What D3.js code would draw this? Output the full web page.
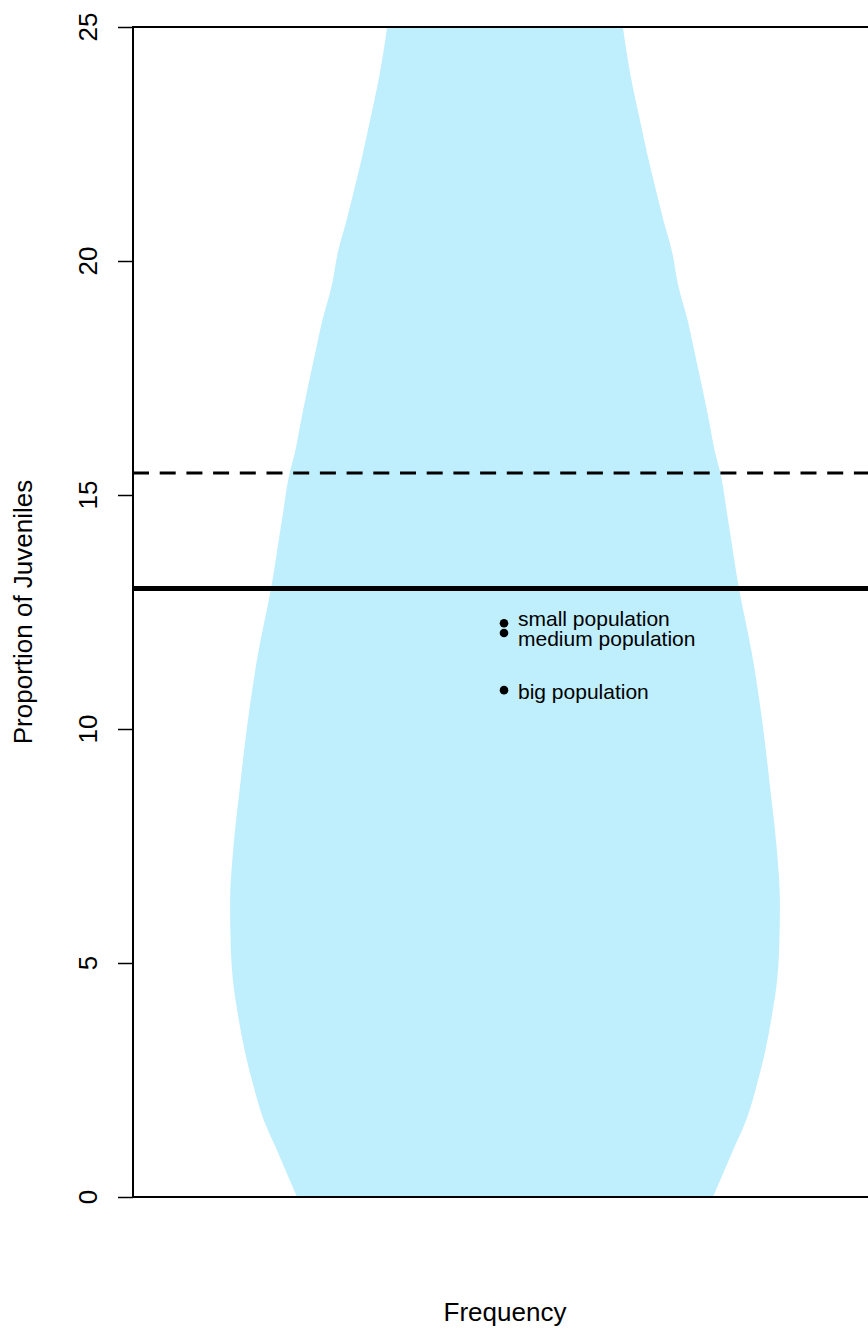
<!DOCTYPE html>
<html>
<head>
<meta charset="utf-8">
<script src="https://cdn.jsdelivr.net/npm/d3@7"></script>
<style>
  body { margin: 0; background: #fff; }
  text { font-family: "Liberation Sans", Arial, sans-serif; }
</style>
</head>
<body>
<svg id="canvas"></svg>
<script>
// proportion levels (y) and the density half-width at each level (in frequency units)
const levels = [0, 1, 1.7, 2.4, 3.1, 3.9, 4.6, 5.3, 6.3, 7.4, 8.8, 10.2, 11.6, 13, 14.5,
    15.5, 15.9, 16.6, 17.3, 18, 18.7, 19.5, 20.2, 20.9, 21.6, 22.3, 23, 23.7, 24.4, 25];
const density = [0.559, 0.613, 0.651, 0.677, 0.699, 0.718, 0.731, 0.737, 0.739, 0.731, 0.712,
    0.691, 0.664, 0.629, 0.599, 0.578, 0.565, 0.548, 0.530, 0.511, 0.492, 0.465, 0.449,
    0.425, 0.403, 0.382, 0.363, 0.344, 0.328, 0.317];

// reference lines
const solidLine = 13.0;
const dashedLine = 15.47;

// populations
const popNames = ["small population", "medium population", "big population"];
const popValues = [12.26, 12.05, 10.83];

const yTicks = [0, 5, 10, 15, 20, 25];

const width = 868, height = 1331;
const svg = d3.select("#canvas").attr("width", width).attr("height", height);

const marginLeft = 133, marginTop = 27, plotBottom = 1197, plotRight = 877;

const x = d3.scaleLinear().domain([-1, 1]).range([marginLeft, plotRight]);
const y = d3.scaleLinear().domain([0, 25]).range([plotBottom, marginTop]);

svg.append("clipPath").attr("id", "clip")
    .append("rect")
    .attr("x", marginLeft).attr("y", marginTop)
    .attr("width", plotRight - marginLeft).attr("height", plotBottom - marginTop);

const shape = levels.map((v, i) => ({ v: v, d: density[i] }));

// violin-like density shape
const area = d3.area()
    .y(d => y(d.v))
    .x0(d => x(-d.d))
    .x1(d => x(d.d))
    .curve(d3.curveMonotoneY);

svg.append("path")
    .datum(shape)
    .attr("clip-path", "url(#clip)")
    .attr("fill", "#BFEEFD")
    .attr("d", area);

// box
svg.append("rect")
    .attr("x", marginLeft).attr("y", marginTop)
    .attr("width", plotRight - marginLeft).attr("height", plotBottom - marginTop)
    .attr("fill", "none")
    .attr("stroke", "#000")
    .attr("stroke-width", 2);

// y axis
const yAxis = svg.append("g")
    .attr("transform", `translate(${marginLeft},0)`)
    .call(d3.axisLeft(y).tickValues(yTicks).tickSize(15).tickFormat(d3.format("d")));
yAxis.select(".domain").remove();
yAxis.selectAll("line").attr("stroke-width", 1.5);
yAxis.selectAll("text").remove();

yTicks.forEach(t => {
    svg.append("text")
        .attr("transform", `translate(97,${y(t)}) rotate(-90)`)
        .attr("text-anchor", "middle")
        .attr("font-size", 26)
        .attr("fill", "#000")
        .text(t);
});

// reference lines
svg.append("line")
    .attr("x1", marginLeft).attr("x2", plotRight)
    .attr("y1", y(dashedLine)).attr("y2", y(dashedLine))
    .attr("stroke", "#000")
    .attr("stroke-width", 3)
    .attr("stroke-dasharray", "16 10.7");

svg.append("line")
    .attr("x1", marginLeft).attr("x2", plotRight)
    .attr("y1", y(solidLine)).attr("y2", y(solidLine))
    .attr("stroke", "#000")
    .attr("stroke-width", 5);

// points and labels (labels nudged apart so the two close ones don't collide)
const nudge = [-6, 5, 0];
popValues.forEach((v, i) => {
    svg.append("circle")
        .attr("cx", x(0) - 1)
        .attr("cy", y(v))
        .attr("r", 4.3)
        .attr("fill", "#000");
    svg.append("text")
        .attr("x", x(0) + 13)
        .attr("y", y(v) + nudge[i])
        .attr("dy", "0.4em")
        .attr("font-size", 21)
        .attr("fill", "#000")
        .text(popNames[i]);
});

// axis titles
svg.append("text")
    .attr("x", x(0))
    .attr("y", 1321)
    .attr("text-anchor", "middle")
    .attr("font-size", 26)
    .attr("fill", "#000")
    .text("Frequency");

svg.append("text")
    .attr("transform", `translate(32,${(marginTop + plotBottom) / 2}) rotate(-90)`)
    .attr("text-anchor", "middle")
    .attr("font-size", 26)
    .attr("fill", "#000")
    .text("Proportion of Juveniles");
</script>
</body>
</html>
